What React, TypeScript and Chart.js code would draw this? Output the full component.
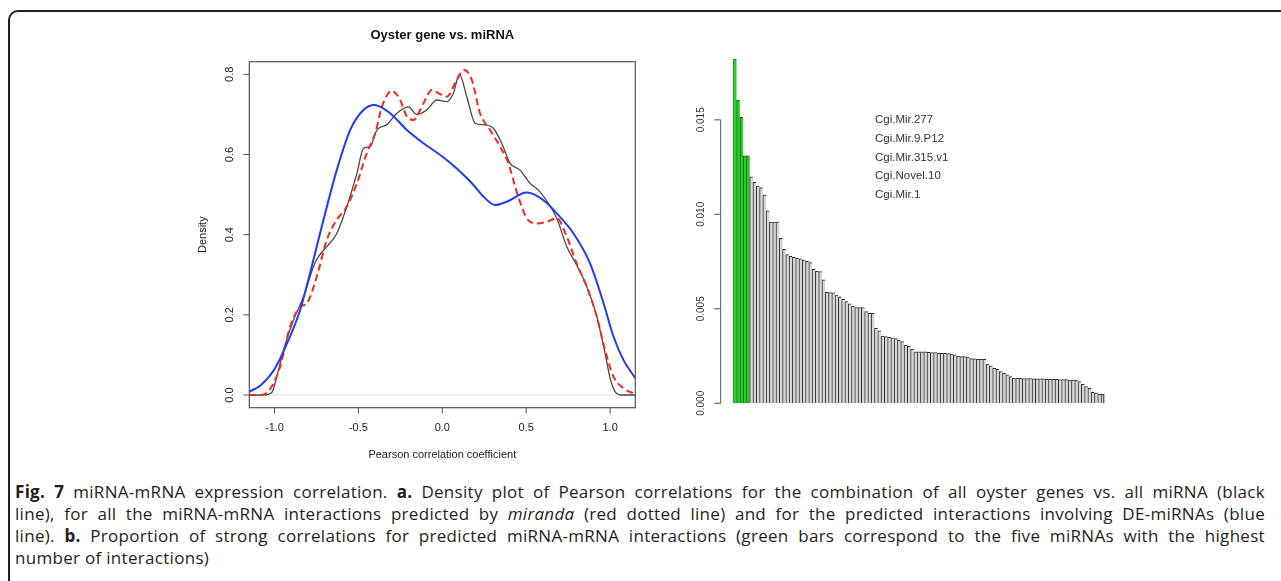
import React, { useEffect, useRef } from "react";
import { Chart, registerables } from "chart.js";

Chart.register(...registerables);

// ---- Panel a: density of Pearson correlation coefficients ----
const allGenesX = [-1.15, -1.066, -1.016, -0.986, -0.946, -0.887, -0.827, -0.768, -0.738, -0.688, -0.629, -0.569, -0.509, -0.47, -0.43, -0.39, -0.331, -0.271, -0.202, -0.152, -0.093, -0.033, 0.027, 0.066, 0.102, 0.146, 0.195, 0.245, 0.305, 0.354, 0.404, 0.463, 0.523, 0.573, 0.632, 0.682, 0.742, 0.801, 0.861, 0.921, 0.97, 1.0, 1.03, 1.07, 1.15];
const allGenesY = [0, 0, 0.006, 0.046, 0.112, 0.187, 0.245, 0.32, 0.345, 0.37, 0.403, 0.47, 0.553, 0.615, 0.62, 0.661, 0.674, 0.703, 0.719, 0.7, 0.711, 0.736, 0.732, 0.753, 0.8, 0.744, 0.678, 0.674, 0.665, 0.628, 0.578, 0.561, 0.528, 0.511, 0.478, 0.441, 0.37, 0.324, 0.27, 0.195, 0.104, 0.042, 0.008, 0, 0];

const mirandaX = [-1.15, -1.076, -1.016, -0.966, -0.907, -0.847, -0.807, -0.748, -0.688, -0.629, -0.569, -0.509, -0.45, -0.4, -0.36, -0.301, -0.251, -0.211, -0.172, -0.112, -0.063, -0.023, 0.027, 0.086, 0.13, 0.176, 0.225, 0.285, 0.344, 0.394, 0.434, 0.463, 0.503, 0.563, 0.622, 0.682, 0.742, 0.801, 0.861, 0.921, 0.97, 1.02, 1.08, 1.15];
const mirandaY = [0, 0, 0.021, 0.071, 0.17, 0.22, 0.229, 0.295, 0.387, 0.437, 0.47, 0.528, 0.603, 0.653, 0.719, 0.759, 0.736, 0.694, 0.686, 0.728, 0.761, 0.753, 0.744, 0.786, 0.811, 0.786, 0.703, 0.661, 0.62, 0.578, 0.52, 0.482, 0.441, 0.428, 0.432, 0.441, 0.395, 0.328, 0.27, 0.195, 0.112, 0.046, 0.017, 0.002];

const deMirnaX = [-1.15, -1.08, -1.0, -0.907, -0.847, -0.788, -0.708, -0.629, -0.549, -0.47, -0.404, -0.311, -0.211, -0.112, 0, 0.086, 0.186, 0.245, 0.315, 0.384, 0.503, 0.603, 0.682, 0.782, 0.881, 0.961, 1.02, 1.08, 1.15];
const deMirnaY = [0.008, 0.025, 0.064, 0.146, 0.212, 0.304, 0.437, 0.561, 0.661, 0.711, 0.7235, 0.703, 0.661, 0.628, 0.595, 0.565, 0.524, 0.495, 0.474, 0.482, 0.505, 0.486, 0.453, 0.403, 0.328, 0.229, 0.146, 0.087, 0.042];

const densityTicksX = [-1.0, -0.5, 0.0, 0.5, 1.0];
const densityTicksY = [0.0, 0.2, 0.4, 0.6, 0.8];

// ---- Panel b: proportion of strong correlations per miRNA ----
const proportionValues = [
  0.01822, 0.01605, 0.01513, 0.01309, 0.01309, 0.01199, 0.01169, 0.0115, 0.01141, 0.01102,
  0.01018, 0.00959, 0.00959, 0.00959, 0.00873, 0.00815, 0.00787, 0.00778, 0.00773, 0.00769,
  0.00765, 0.00758, 0.00751, 0.00744, 0.00709, 0.00698, 0.00697, 0.00653, 0.00587, 0.00586,
  0.00584, 0.00573, 0.00564, 0.0055, 0.00538, 0.00526, 0.00515, 0.00506, 0.00506, 0.00506,
  0.00485, 0.00476, 0.00476, 0.00397, 0.00384, 0.00356, 0.00353, 0.00349, 0.00347, 0.00342,
  0.00335, 0.00326, 0.00307, 0.00303, 0.00286, 0.00273, 0.00273, 0.00272, 0.00272, 0.0027,
  0.00268, 0.00268, 0.00266, 0.00265, 0.00265, 0.00263, 0.00261, 0.00256, 0.00249, 0.00247,
  0.00247, 0.00245, 0.00236, 0.00235, 0.00233, 0.00233, 0.00233, 0.00208, 0.00198, 0.00185,
  0.0018, 0.00168, 0.00159, 0.0015, 0.00141, 0.00134, 0.00132, 0.00132, 0.00131, 0.00131,
  0.00131, 0.00129, 0.00129, 0.00129, 0.00129, 0.00127, 0.00127, 0.00127, 0.00127, 0.00125,
  0.00125, 0.00125, 0.00123, 0.00123, 0.00123, 0.00115, 0.00101, 0.00088, 0.00079, 0.00058,
  0.00056, 0.00049, 0.00048,
];
const topMiRNAs = ["Cgi.Mir.277", "Cgi.Mir.9.P12", "Cgi.Mir.315.v1", "Cgi.Novel.10", "Cgi.Mir.1"];
const proportionTicks = [0, 0.005, 0.01, 0.015];

const PLOT_FONT = '"Liberation Sans", Arial, Helvetica, sans-serif';

function rotatedText(ctx: CanvasRenderingContext2D, text: string, x: number, y: number) {
  ctx.save();
  ctx.translate(x, y);
  ctx.rotate(-Math.PI / 2);
  ctx.textAlign = "center";
  ctx.textBaseline = "middle";
  ctx.fillText(text, 0, 0);
  ctx.restore();
}

const densityDecor = {
  id: "densityDecor",
  beforeDatasetsDraw(chart: any) {
    const { ctx, chartArea: a, scales } = chart;
    const y0 = scales.y.getPixelForValue(0);
    ctx.save();
    ctx.strokeStyle = "#e2e2e2";
    ctx.lineWidth = 1;
    ctx.beginPath();
    ctx.moveTo(a.left, y0);
    ctx.lineTo(a.right, y0);
    ctx.stroke();
    ctx.restore();
  },
  afterDraw(chart: any) {
    const { ctx, chartArea: a, scales } = chart;
    const { x, y } = scales;
    ctx.save();
    ctx.strokeStyle = "#555";
    ctx.lineWidth = 1.2;
    ctx.strokeRect(a.left, a.top, a.right - a.left, a.bottom - a.top);
    ctx.fillStyle = "#222";
    ctx.font = `11px ${PLOT_FONT}`;
    ctx.textAlign = "center";
    ctx.textBaseline = "middle";
    ctx.lineWidth = 1;
    densityTicksX.forEach((v) => {
      const px = x.getPixelForValue(v);
      ctx.beginPath();
      ctx.moveTo(px, a.bottom);
      ctx.lineTo(px, a.bottom + 6);
      ctx.stroke();
      ctx.fillText(v.toFixed(1), px, a.bottom + 20.5);
    });
    densityTicksY.forEach((v) => {
      const py = y.getPixelForValue(v);
      ctx.beginPath();
      ctx.moveTo(a.left, py);
      ctx.lineTo(a.left - 6, py);
      ctx.stroke();
      rotatedText(ctx, v.toFixed(1), a.left - 19.5, py);
    });
    ctx.font = `bold 13px ${PLOT_FONT}`;
    ctx.fillStyle = "#111";
    ctx.fillText("Oyster gene vs. miRNA", (a.left + a.right) / 2, a.top - 26.5);
    ctx.font = `11px ${PLOT_FONT}`;
    ctx.fillStyle = "#222";
    ctx.fillText("Pearson correlation coefficient", (a.left + a.right) / 2, a.bottom + 47.5);
    rotatedText(ctx, "Density", a.left - 46.5, (a.top + a.bottom) / 2);
    ctx.restore();
  },
};

function DensityPanel() {
  const ref = useRef<HTMLCanvasElement>(null);
  useEffect(() => {
    const pts = (xs: number[], ys: number[]) => xs.map((x, i) => ({ x, y: ys[i] }));
    const chart = new Chart(ref.current as HTMLCanvasElement, {
      type: "scatter",
      data: {
        datasets: [
          {
            label: "All oyster genes vs. all miRNA",
            data: pts(allGenesX, allGenesY),
            showLine: true,
            borderColor: "#474747",
            borderWidth: 1.3,
            pointRadius: 0,
            cubicInterpolationMode: "monotone",
            order: 3,
          },
          {
            label: "miranda predicted interactions",
            data: pts(mirandaX, mirandaY),
            showLine: true,
            borderColor: "#f5281c",
            borderWidth: 2,
            borderDash: [7, 4],
            pointRadius: 0,
            cubicInterpolationMode: "monotone",
            order: 2,
          },
          {
            label: "DE-miRNA interactions",
            data: pts(deMirnaX, deMirnaY),
            showLine: true,
            borderColor: "#1e3cf5",
            borderWidth: 2,
            pointRadius: 0,
            cubicInterpolationMode: "monotone",
            order: 1,
          },
        ],
      },
      options: {
        responsive: false,
        animation: false,
        events: [],
        layout: { padding: { left: 69.3, right: 14.7, top: 46.7, bottom: 67.3 } },
        plugins: { legend: { display: false }, tooltip: { enabled: false } },
        scales: {
          x: { type: "linear", min: -1.15, max: 1.15, display: false },
          y: { type: "linear", min: -0.0317, max: 0.8315, display: false },
        },
      } as any,
      plugins: [densityDecor as any],
    });
    return () => chart.destroy();
  }, []);
  return (
    <canvas ref={ref} width={470} height={460} style={{ position: "absolute", left: 180, top: 15 }} />
  );
}

const proportionDecor = {
  id: "proportionDecor",
  afterDraw(chart: any) {
    const { ctx, chartArea: a, scales } = chart;
    const y = scales.y;
    const axisX = a.left - 12.6;
    ctx.save();
    ctx.strokeStyle = "#555";
    ctx.lineWidth = 1;
    ctx.beginPath();
    ctx.moveTo(axisX, y.getPixelForValue(proportionTicks[0]));
    ctx.lineTo(axisX, y.getPixelForValue(proportionTicks[proportionTicks.length - 1]));
    ctx.stroke();
    ctx.fillStyle = "#333";
    ctx.font = `10px ${PLOT_FONT}`;
    proportionTicks.forEach((v) => {
      const py = y.getPixelForValue(v);
      ctx.beginPath();
      ctx.moveTo(axisX, py);
      ctx.lineTo(axisX - 6.5, py);
      ctx.stroke();
      rotatedText(ctx, v.toFixed(3), axisX - 19, py);
    });
    // closing edge of the last bar
    const meta = chart.getDatasetMeta(0);
    const last = meta.data[meta.data.length - 1];
    if (last) {
      const right = last.x + last.width / 2;
      ctx.strokeStyle = "#2e2e2e";
      ctx.beginPath();
      ctx.moveTo(right - 0.5, last.y);
      ctx.lineTo(right - 0.5, last.base);
      ctx.stroke();
    }
    ctx.font = `11.5px ${PLOT_FONT}`;
    ctx.fillStyle = "#333";
    ctx.textAlign = "left";
    ctx.textBaseline = "middle";
    topMiRNAs.forEach((name, i) => {
      ctx.fillText(name, a.left + 141.7, a.top + 65 + i * 18.7);
    });
    ctx.restore();
  },
};

function ProportionPanel() {
  const ref = useRef<HTMLCanvasElement>(null);
  useEffect(() => {
    const chart = new Chart(ref.current as HTMLCanvasElement, {
      type: "bar",
      data: {
        labels: proportionValues.map((_, i) => `miRNA ${i + 1}`),
        datasets: [
          {
            data: proportionValues,
            backgroundColor: proportionValues.map((_, i) => (i < topMiRNAs.length ? "#1ed41e" : "#d6d6d6")),
            borderColor: proportionValues.map((_, i) => (i < topMiRNAs.length ? "#124c12" : "#2e2e2e")),
            borderWidth: { top: 1, left: 1, right: 0, bottom: 0 },
            borderSkipped: "start",
            barPercentage: 1,
            categoryPercentage: 1,
          },
        ],
      },
      options: {
        responsive: false,
        animation: false,
        events: [],
        layout: { padding: { left: 53.3, right: 15.7, top: 15, bottom: 16.7 } },
        plugins: { legend: { display: false }, tooltip: { enabled: false } },
        scales: {
          x: { display: false },
          y: { min: 0, max: 0.01843, display: false },
        },
      } as any,
      plugins: [proportionDecor as any],
    });
    return () => chart.destroy();
  }, []);
  return (
    <canvas ref={ref} width={440} height={380} style={{ position: "absolute", left: 680, top: 40 }} />
  );
}

const captionLine: React.CSSProperties = {
  width: 1250,
  whiteSpace: "nowrap",
  textAlign: "justify",
  textAlignLast: "justify",
  height: 22,
};

function Caption() {
  return (
    <div
      style={{
        position: "absolute",
        left: 15,
        top: 481,
        fontFamily: '"Open Sans", "Noto Sans", sans-serif',
        fontSize: 17,
        letterSpacing: 0.3,
        lineHeight: "22px",
        color: "#231f20",
      }}
    >
      <div style={captionLine}>
        <b>Fig. 7</b> miRNA-mRNA expression correlation. <b>a.</b> Density plot of Pearson correlations for the combination of all oyster genes vs. all miRNA (black
      </div>
      <div style={captionLine}>
        line), for all the miRNA-mRNA interactions predicted by <i>miranda</i> (red dotted line) and for the predicted interactions involving DE-miRNAs (blue
      </div>
      <div style={captionLine}>
        line). <b>b.</b> Proportion of strong correlations for predicted miRNA-mRNA interactions (green bars correspond to the five miRNAs with the highest
      </div>
      <div style={{ height: 22, whiteSpace: "nowrap" }}>number of interactions)</div>
    </div>
  );
}

export default function App() {
  return (
    <div
      style={{
        position: "absolute",
        left: 0,
        top: 0,
        width: 1281,
        height: 581,
        background: "#fff",
        overflow: "hidden",
      }}
    >
      <div
        style={{
          position: "absolute",
          left: 8,
          top: 10,
          width: 1300,
          height: 620,
          border: "2px solid #222",
          borderRadius: 10,
          boxSizing: "border-box",
        }}
      />
      <DensityPanel />
      <ProportionPanel />
      <Caption />
    </div>
  );
}
